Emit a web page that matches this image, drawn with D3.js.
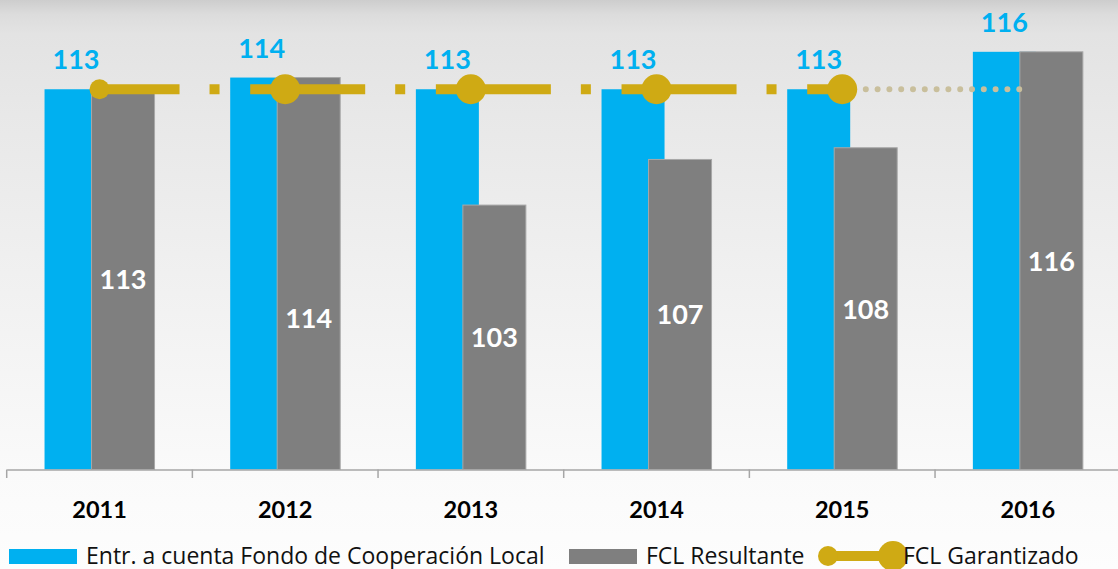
<!DOCTYPE html>
<html>
<head>
<meta charset="utf-8">
<script src="https://cdn.jsdelivr.net/npm/d3@7"></script>
<style>
  html, body { margin: 0; padding: 0; background: #fdfdfd; }
  svg { display: block; }
  text { font-family: Lato, "Open Sans", sans-serif; }
  text.legend { font-family: "Open Sans", sans-serif; font-size: 23px; }
</style>
</head>
<body>
<div id="chart"></div>
<script>
// data
var years = ["2011", "2012", "2013", "2014", "2015", "2016"];
var entregas = [113, 114, 113, 113, 113, 116.2];
var resultante = [113, 114, 103.1, 107, 108, 116.2];
var garantizado = [113, 113, 113, 113, 113, 113];
var legendLabels = ["Entr. a cuenta Fondo de Cooperación Local", "FCL Resultante", "FCL Garantizado"];

var W = 1118, H = 569;
var BLUE = "#00b0f0", GREY = "#7f7f7f", GOLD = "#cfaa14", DOTS = "#c9bf9c";
var base = 469.5;

var svg = d3.select("#chart").append("svg")
    .attr("width", W)
    .attr("height", H);

// background gradient
var grad = svg.append("defs").append("linearGradient")
    .attr("id", "bg").attr("x1", 0).attr("y1", 0).attr("x2", 0).attr("y2", 1);
[[0, "#cdcdcd"], [0.025, "#dcdcdc"], [0.06, "#e3e3e3"], [0.2, "#e8e8e8"],
 [0.55, "#f2f2f2"], [0.83, "#fafafa"], [1, "#fdfdfd"]].forEach(function(s) {
    grad.append("stop").attr("offset", s[0]).attr("stop-color", s[1]);
});
svg.append("rect").attr("width", W).attr("height", H).attr("fill", "url(#bg)");

var x = d3.scaleBand().domain(years).range([6.7, 1120.7]).padding(0);
var y = d3.scaleLinear().domain([80.5, 120]).range([base, base - 39.5 * 11.7]);

var barW = 63, shift = 23.5;
var cx = function(i) { return x(years[i]) + x.bandwidth() / 2; };

// bars
svg.append("g").selectAll("rect").data(entregas).enter().append("rect")
    .attr("x", function(d, i) { return cx(i) - shift - barW / 2; })
    .attr("y", function(d) { return y(d); })
    .attr("width", barW)
    .attr("height", function(d) { return base - y(d); })
    .attr("fill", BLUE);

svg.append("g").selectAll("rect").data(resultante).enter().append("rect")
    .attr("x", function(d, i) { return cx(i) + shift - barW / 2; })
    .attr("y", function(d) { return y(d); })
    .attr("width", barW)
    .attr("height", function(d) { return base - y(d); })
    .attr("fill", GREY)
    .attr("stroke", "#a8a8a8")
    .attr("stroke-width", 1);

// axis
var axis = svg.append("g")
    .attr("transform", "translate(0," + base + ")")
    .call(d3.axisBottom(x).tickSize(0).tickPadding(32));
axis.select(".domain").attr("stroke", "#a6a6a6").attr("stroke-width", 1.5);
axis.selectAll("text")
    .attr("fill", "#000")
    .style("font-size", "23.5px")
    .style("font-weight", "bold");
axis.selectAll(".sep").data(years).enter().append("line")
    .attr("class", "sep")
    .attr("x1", function(d) { return x(d); })
    .attr("x2", function(d) { return x(d); })
    .attr("y1", 0).attr("y2", 8.5)
    .attr("stroke", "#a6a6a6").attr("stroke-width", 1.5);

// FCL Garantizado line: dashed solid part up to 2015, dotted to 2016
var step = x.step();
var line = d3.line()
    .x(function(d, i) { return cx(d.i); })
    .y(function(d) { return y(d.v); });
var pts = garantizado.map(function(v, i) { return { v: v, i: i }; });

svg.append("path")
    .datum(pts.slice(0, 5))
    .attr("d", line)
    .attr("fill", "none")
    .attr("stroke", GOLD)
    .attr("stroke-width", 10)
    .attr("stroke-dasharray", [115, 30, 10, step - 155].join(","))
    .attr("stroke-dashoffset", 35);

svg.append("path")
    .datum(pts.slice(4, 6))
    .attr("d", line)
    .attr("fill", "none")
    .attr("stroke", DOTS)
    .attr("stroke-width", 6)
    .attr("stroke-linecap", "round")
    .attr("stroke-dasharray", "0,11.8");

svg.append("g").selectAll("circle").data(pts.slice(0, 5)).enter().append("circle")
    .attr("cx", function(d) { return cx(d.i); })
    .attr("cy", function(d) { return y(d.v); })
    .attr("r", function(d) { return d.i === 0 ? 10 : 15; })
    .attr("fill", GOLD);

// value labels
var fmt = d3.format(".0f");
svg.append("g").selectAll("text").data(entregas).enter().append("text")
    .attr("x", function(d, i) { return cx(i) - shift; })
    .attr("y", function(d) { return y(d) - 20; })
    .attr("text-anchor", "middle")
    .attr("fill", BLUE)
    .style("font-size", "27px")
    .style("font-weight", "bold")
    .text(fmt);

// 2012 label sits lower than the bar middle in the original
var nudge = { "2012": 44 };
svg.append("g").selectAll("text").data(resultante).enter().append("text")
    .attr("x", function(d, i) { return cx(i) + shift; })
    .attr("y", function(d, i) { return (y(d) + base) / 2 + 10 + (nudge[years[i]] || 0); })
    .attr("text-anchor", "middle")
    .attr("fill", "#fff")
    .style("font-size", "27px")
    .style("font-weight", "bold")
    .text(fmt);

// legend
var lg = svg.append("g").attr("fill", "#111");
lg.append("rect").attr("x", 9).attr("y", 549).attr("width", 68).attr("height", 15).attr("fill", BLUE);
lg.append("text").attr("class", "legend").attr("x", 86).attr("y", 563.5).text(legendLabels[0]);
lg.append("rect").attr("x", 569).attr("y", 549).attr("width", 68).attr("height", 15).attr("fill", GREY);
lg.append("text").attr("class", "legend").attr("x", 646).attr("y", 563.5).text(legendLabels[1]);
lg.append("line").attr("x1", 828).attr("x2", 893).attr("y1", 556).attr("y2", 556)
    .attr("stroke", GOLD).attr("stroke-width", 10);
lg.append("circle").attr("cx", 828).attr("cy", 556).attr("r", 10).attr("fill", GOLD);
lg.append("circle").attr("cx", 893).attr("cy", 556).attr("r", 15).attr("fill", GOLD);
lg.append("text").attr("class", "legend").attr("x", 903).attr("y", 563.5).text(legendLabels[2]);
</script>
</body>
</html>
